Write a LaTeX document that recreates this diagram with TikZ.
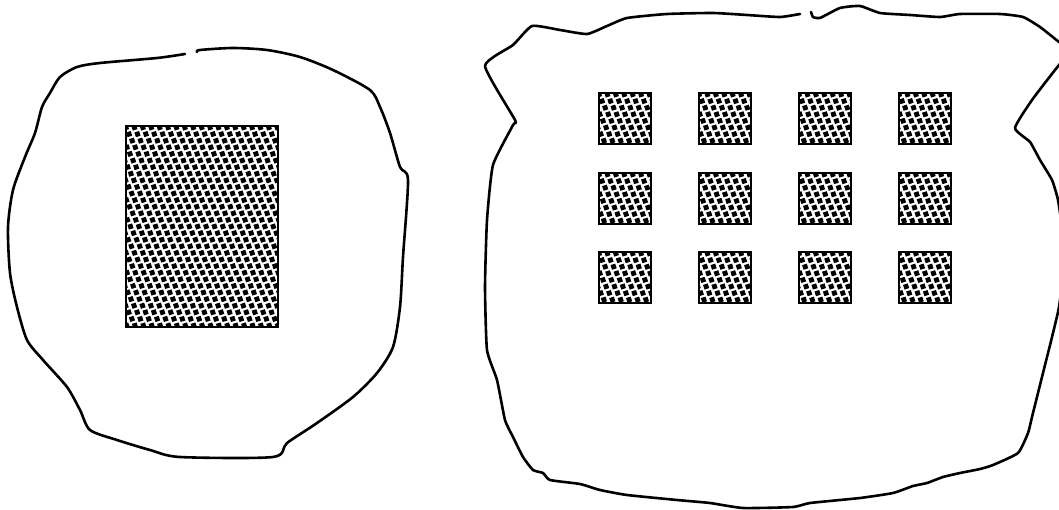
\documentclass[tikz,border=0pt]{standalone}
\usetikzlibrary{calc}
\tikzset{
  outline/.style={line width=2.6pt, line cap=round, line join=round},
  tileframe/.style={line width=2pt},
}
\newcommand\tilefill[7]{%
  \begin{scope}
    \clip (#1,#2) rectangle (#3,#4);
    \foreach \j in {0,...,#5}{%
      \foreach \i in {#6,...,#7}{%
        \pgfmathsetmacro\cx{#1+\i*8.4+\j*3.1}%
        \pgfmathsetmacro\cy{#2+1.5+\j*6.6}%
        \fill[shift={(\cx,\cy)},rotate=18] (-2.45,-2.45) rectangle (2.45,2.45);
      }%
    }%
  \end{scope}
  \draw[tileframe] (#1,#2) rectangle (#3,#4);
}
\begin{document}
\begin{tikzpicture}[x=1pt,y=-1pt]
  \useasboundingbox (0,0) rectangle (1059,510);
  \fill[white] (0,0) rectangle (1059,510);
  \clip (0,0) rectangle (1059,510);

  % left blob
  \draw[outline] plot[smooth, tension=0.45] coordinates {
    (197,52) (200,50) (233,48) (267,50) (300,57) (333,70) (370,90) (380,107)
    (390,133) (400,167) (408,180) (403,257) (400,307) (393,347) (377,373)
    (353,397) (317,423) (287,443) (273,457) (180,457) (150,450) (117,440)
    (90,430) (80,410) (67,387) (43,360) (27,340) (17,307) (10,273) (8,227)
    (13,190) (25,157) (35,133) (42,107) (50,93) (60,77) (77,67) (100,63)
    (157,58) (185,54)};

  % right blob
  \draw[outline] plot[smooth, tension=0.3] coordinates {
    (811,12) (813,17) (820,18) (840,8) (860,6) (880,13) (910,15) (940,17)
    (960,14) (1000,14) (1023,17) (1040,27) (1059,42) (1072,52) (1059,65)
    (1032,100) (1015,128) (1030,142) (1040,160) (1052,180) (1058,200)
    (1062,230) (1062,280) (1059,307) (1053,333) (1043,373) (1032,417)
    (1028,433) (1018,453) (993,465) (980,469) (960,473) (943,477) (927,483)
    (913,486) (893,493) (860,498) (810,503) (793,507) (743,508) (710,503)
    (677,500) (627,495) (600,490) (580,484) (550,480) (543,473) (533,470)
    (523,457) (513,437) (505,420) (497,380) (487,350) (485,287) (487,220)
    (493,165) (513,125) (515,120) (485,66) (513,45) (532,26) (560,30)
    (587,34) (607,26) (627,18) (667,14) (713,13) (747,15) (780,17) (800,14)};

  % large textured rectangle
  \tilefill{126}{126}{278}{327}{31}{-13}{20}

  % grid of small textured squares
  \foreach \c in {0,1,2,3}{%
    \foreach \r/\ry in {0/93,1/173,2/252}{%
      \pgfmathsetmacro\rx{599+\c*100}%
      \pgfmathsetmacro\rxx{\rx+52}%
      \pgfmathsetmacro\ryy{\ry+51}%
      \tilefill{\rx}{\ry}{\rxx}{\ryy}{8}{-4}{7}
    }%
  }
\end{tikzpicture}
\end{document}
